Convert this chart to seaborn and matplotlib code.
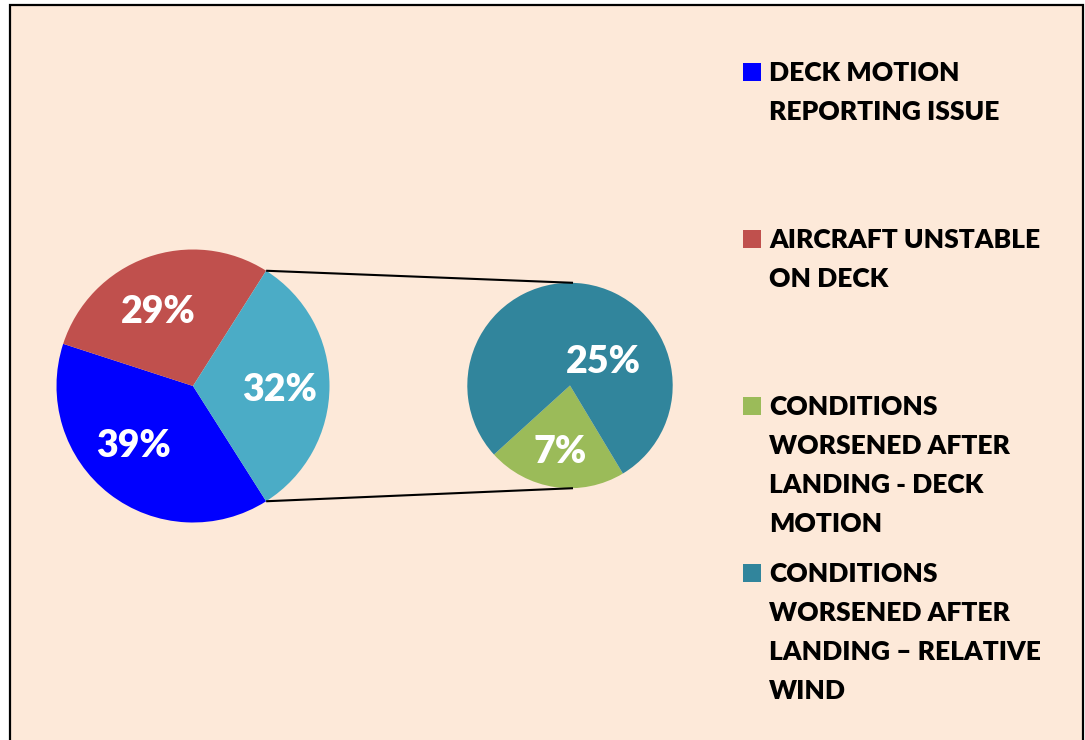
import numpy as np
import matplotlib
matplotlib.use("Agg")
import matplotlib.pyplot as plt
from matplotlib.patches import Rectangle
import seaborn as sns

# ---- data ----
categories = [
    "DECK MOTION\nREPORTING ISSUE",
    "AIRCRAFT UNSTABLE\nON DECK",
    "CONDITIONS\nWORSENED AFTER\nLANDING - DECK\nMOTION",
    "CONDITIONS\nWORSENED AFTER\nLANDING \u2013 RELATIVE\nWIND",
]
values = [39, 29, 7, 25]          # percent of total
colors = ["#0000FF", "#C0504D", "#9BBB59", "#31859C"]
other_color = "#4BACC6"
main_idx = [0, 1]                 # slices shown in the main pie
sub_idx = [2, 3]                  # slices split out into the secondary pie

sns.set_theme(style="white")
plt.rcParams["font.family"] = ["Lato", "DejaVu Sans"]

W, H = 1085, 740
fig = plt.figure(figsize=(W / 100, H / 100), dpi=100)
fig.patch.set_facecolor("white")
ax = fig.add_axes([0, 0, 1, 1])
ax.set_facecolor("none")

def py(y):  # pixel-from-top -> data y
    return H - y

# background frame
ax.add_patch(Rectangle((10, py(760)), 1073, 755, facecolor="#FDE9D9",
                       edgecolor="black", linewidth=1.6, zorder=0))

# main pie
main_vals = [values[i] for i in main_idx] + [sum(values[i] for i in sub_idx)]
main_cols = [colors[i] for i in main_idx] + [other_color]
c1 = (193, py(386)); r1 = 136.5
w1, _ = ax.pie(main_vals, colors=main_cols, startangle=-57.6, counterclock=False,
               center=c1, radius=r1, wedgeprops=dict(linewidth=0), frame=True)

# secondary pie
sub_vals = [values[i] for i in sub_idx]
sub_cols = [colors[i] for i in sub_idx]
c2 = (570, py(385.5)); r2 = 102.7
w2, _ = ax.pie(sub_vals, colors=sub_cols, startangle=-59.0, counterclock=False,
               center=c2, radius=r2, wedgeprops=dict(linewidth=0), frame=True)

# labels
lab_font = dict(color="white", fontsize=27, fontweight="heavy", ha="center", va="center")
main_tweak = [-8.0, 5.0, -1.3]
for w, v, tw in zip(w1, main_vals, main_tweak):
    mid = np.deg2rad((w.theta1 + w.theta2) / 2 + tw)
    dist = 0.61 * r1 + (3 if abs(tw) < 2 else 0)
    ax.text(c1[0] + dist * np.cos(mid), c1[1] + dist * np.sin(mid) - 2,
            f"{v}%", **lab_font)
g = w2[0]
mid = np.deg2rad((g.theta1 + g.theta2) / 2)
ax.text(c2[0] + 0.63 * r2 * np.cos(mid), c2[1] + 0.63 * r2 * np.sin(mid) - 2,
        f"{sub_vals[0]}%", **lab_font)
ang = np.deg2rad(37)
ax.text(c2[0] + 0.41 * r2 * np.cos(ang), c2[1] + 0.41 * r2 * np.sin(ang) - 2,
        f"{sub_vals[1]}%", **lab_font)

# connector lines: top/bottom edges of the "other" wedge to top/bottom of secondary pie
other = w1[-1]
t_top = np.deg2rad(max(other.theta1, other.theta2))
t_bot = np.deg2rad(min(other.theta1, other.theta2))
for t, yend in [(t_top, c2[1] + r2), (t_bot, c2[1] - r2)]:
    x0, y0 = c1[0] + r1 * np.cos(t), c1[1] + r1 * np.sin(t)
    ax.plot([x0, c2[0] + 3], [y0, yend], color="black", lw=1.5, zorder=1,
            solid_capstyle="butt")

# legend
leg_font = dict(color="black", fontsize=19, fontweight="heavy", ha="left", va="baseline")
first_base = 81
for k, (lab, col) in enumerate(zip(categories, colors)):
    base = first_base + 167 * k
    ax.add_patch(Rectangle((743, py(base)), 18, 18, facecolor=col, edgecolor="none"))
    for j, line in enumerate(lab.split("\n")):
        ax.text(769, py(base + 39 * j), line, **leg_font)

ax.set_xlim(0, W)
ax.set_ylim(0, H)
ax.set_aspect("equal")
ax.axis("off")
fig.savefig("out.png", dpi=100, facecolor="white")
